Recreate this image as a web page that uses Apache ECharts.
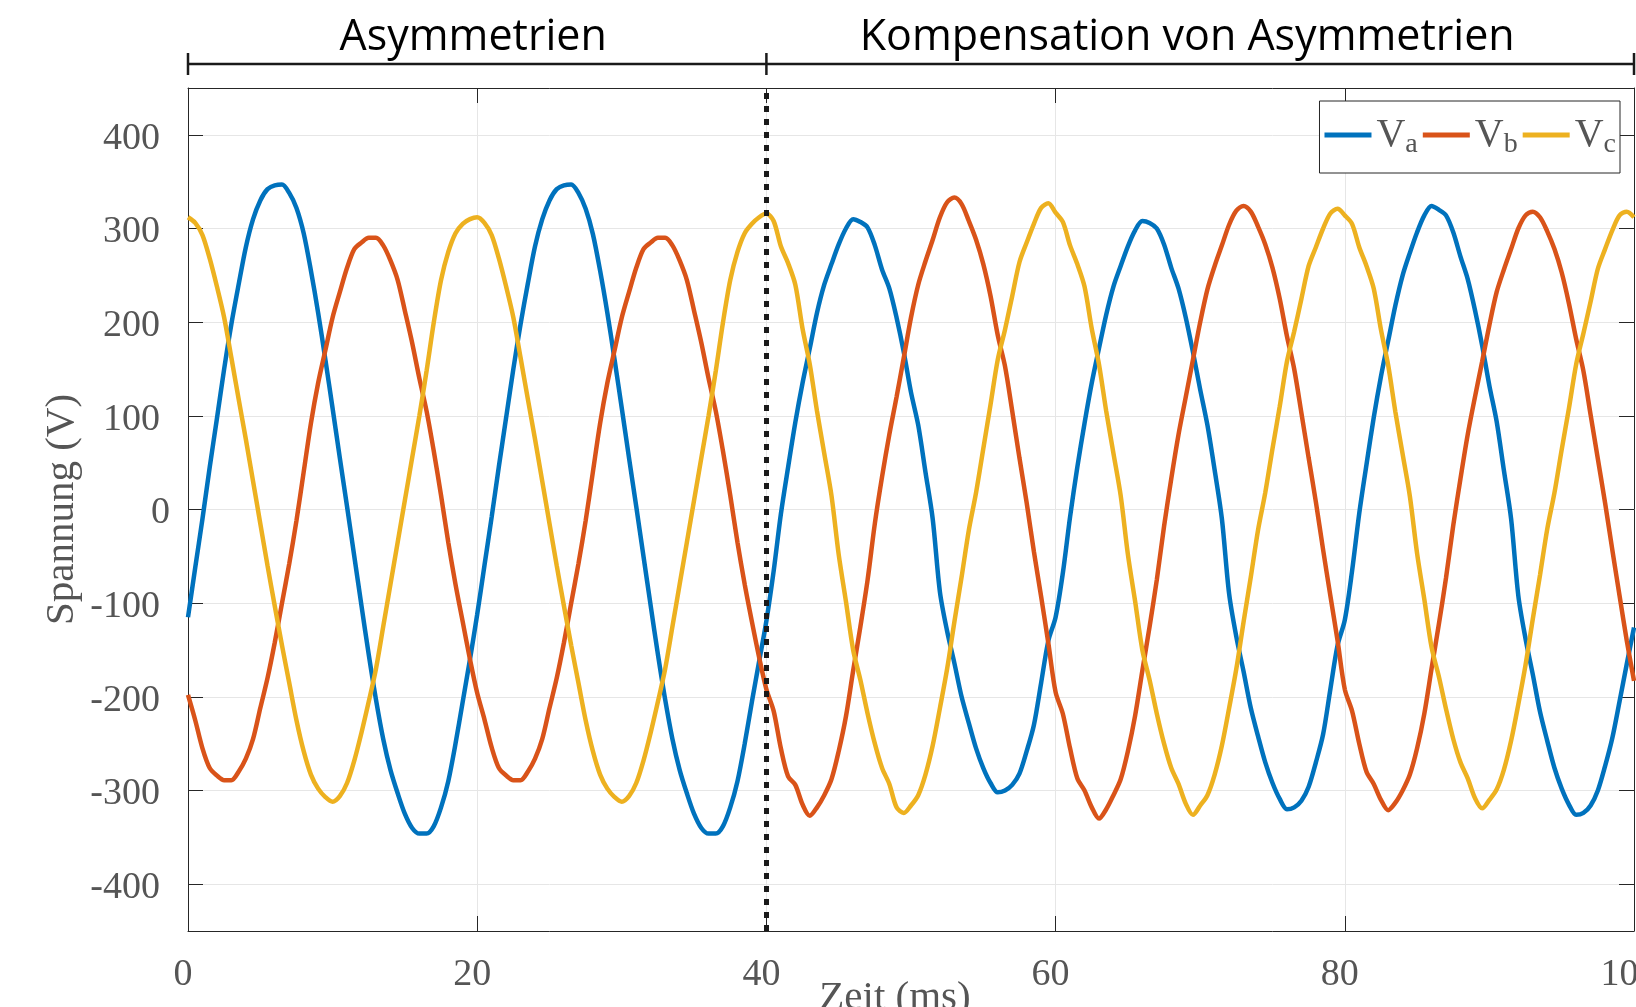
<!DOCTYPE html>
<html><head><meta charset="utf-8">
<script src="https://cdn.jsdelivr.net/npm/echarts@6/dist/echarts.min.js"></script>
<style>html,body{margin:0;padding:0;background:#fff}#c{width:1636px;height:1007px}</style>
</head><body><div id="c"></div><script>
// ---------- data ----------
const timeStepMs = 0.5;           // samples every 0.5 ms, 0 .. 100 ms
const va = [
 -115,-62,-10,45,97,150,198,240,280,310,330,342,346,347,338,322,295,255,210,160,108,55,3,-50,-103,-155,-203,-245,-278,-303,-325,-340,-346,-346,-338,-318,-290,-250,-205,-160,-112,
 -60,-8,46,98,150,198,241,281,310,330,342,346,347,338,321,294,255,210,160,108,55,3,-50,-103,-155,-203,-245,-278,-303,-325,-340,-346,-346,-338,-318,-290,-250,-205,-162,-119,
 -66,-5,45,93,135,172,210,240,262,283,300,310,307,301,282,256,236,205,168,125,90,40,-10,-88,-130,-164,-200,-228,-255,-276,-292,-302,-300,-294,-282,-258,-230,-185,-140,-115,
 -68,-8,45,92,135,172,208,238,260,281,298,308,306,300,283,258,236,205,168,128,90,42,-10,-90,-136,-173,-212,-242,-270,-292,-309,-320,-318,-311,-296,-270,-240,-192,-145,-118,
 -66,-4,48,98,142,180,218,250,274,296,314,324,320,314,296,270,246,213,175,132,94,42,-10,-92,-138,-176,-216,-247,-276,-298,-315,-326,-324,-316,-300,-274,-244,-205,-165,-126
];
const vb = [
 -198,-225,-255,-276,-284,-289,-289,-280,-266,-245,-212,-180,-142,-100,-58,-12,40,92,135,170,205,232,258,278,285,290,290,282,266,245,212,178,140,105,62,15,-35,-80,-120,-160,-196,
 -224,-254,-276,-284,-289,-289,-280,-266,-245,-212,-180,-142,-100,-58,-12,40,92,135,170,205,232,258,278,285,290,290,282,266,245,212,178,140,105,62,15,-35,-80,-120,-158,-192,
 -215,-255,-285,-294,-315,-327,-318,-305,-288,-258,-221,-172,-125,-75,-15,35,80,120,162,205,240,265,288,312,328,333,326,308,288,262,228,186,153,105,55,7,-45,-93,-143,-195,
 -218,-255,-287,-300,-318,-330,-320,-305,-288,-258,-220,-172,-125,-75,-18,33,80,120,160,200,235,260,282,304,319,324,318,302,283,258,225,185,150,103,55,8,-43,-92,-140,-192,
 -215,-250,-280,-293,-310,-321,-313,-300,-283,-255,-218,-170,-123,-73,-17,33,80,120,158,197,232,256,278,300,314,318,312,297,278,253,220,182,148,101,54,7,-43,-92,-140,-183
];
const vc = [
 312,306,293,268,238,205,162,118,75,30,-15,-60,-103,-145,-185,-225,-258,-283,-298,-307,-312,-306,-292,-268,-238,-205,-170,-125,-80,-35,10,55,100,148,200,245,275,295,305,310,312,
 306,293,268,238,205,162,118,75,30,-15,-60,-103,-145,-185,-225,-258,-283,-298,-307,-312,-306,-292,-268,-238,-205,-170,-125,-80,-35,10,55,100,148,200,245,275,295,305,312,316,
 308,281,263,240,193,155,105,60,15,-48,-98,-150,-182,-218,-250,-276,-293,-318,-324,-316,-305,-283,-252,-212,-170,-120,-72,-22,18,65,112,160,192,228,264,285,305,322,327,317,
 307,282,262,238,193,155,105,60,15,-48,-98,-150,-182,-218,-250,-276,-293,-314,-326,-316,-305,-283,-252,-212,-170,-120,-72,-22,18,65,110,158,190,225,260,280,300,316,321,314,
 305,280,260,236,192,154,104,59,14,-47,-96,-147,-178,-213,-245,-270,-287,-308,-319,-310,-299,-278,-247,-208,-166,-117,-70,-21,18,64,108,155,188,222,257,278,298,314,318,312
];
const seriesNames = ['Va', 'Vb', 'Vc'];
const seriesSubs = ['a', 'b', 'c'];
const switchTimeMs = 40;
const phaseBounds = [0, 40, 100];
const phaseLabels = ['Asymmetrien', 'Kompensation von Asymmetrien'];
const xName = 'Zeit (ms)';
const yName = 'Spannung (V)';

// ---------- styling / layout ----------
const colors = ['#0072BD', '#D95319', '#EDB120'];
const axisColor = '#262626';
const labelColor = '#555555';
const serif = '"Liberation Serif", "Times New Roman", serif';
const sans = '"Open Sans", "Noto Sans", sans-serif';
const timeMs = va.map((_, i) => i * timeStepMs);
const seriesValues = [va, vb, vc];

const chart = echarts.init(document.getElementById('c'), null, { renderer: 'canvas' });

const baseX = {
  type: 'value', min: 0, max: 100, interval: 20,
  axisLine: { show: true, onZero: false, lineStyle: { color: axisColor, width: 1 } },
  axisTick: { show: true, inside: true, length: 15, lineStyle: { color: axisColor, width: 1 } }
};
const baseY = {
  type: 'value', min: -450, max: 450, splitNumber: 9,
  axisLine: { show: true, onZero: false, lineStyle: { color: axisColor, width: 1 } },
  axisTick: { show: true, inside: true, length: 15, lineStyle: { color: axisColor, width: 1 } }
};

const subOf = {};
seriesNames.forEach((n, i) => subOf[n] = seriesSubs[i]);
const tickFont = { fontFamily: serif, fontSize: 38, color: labelColor };

const option = {
  animation: false,
  backgroundColor: '#ffffff',
  grid: { left: 188, right: 2, top: 88, bottom: 76, containLabel: false, outerBoundsMode: 'none' },
  xAxis: [
    Object.assign({}, baseX, {
      position: 'bottom',
      axisLabel: { show: true, margin: 25, color: labelColor, fontFamily: serif, fontSize: 38,
                   formatter: v => '{n|' + v + '}',
                   rich: { n: Object.assign({ padding: [0, 10, 0, 0] }, tickFont) } },
      splitLine: { show: true, lineStyle: { color: '#e6e6e6', width: 1 } },
      name: xName, nameLocation: 'middle', nameGap: 47, nameMoveOverlap: false,
      nameTextStyle: { color: labelColor, fontFamily: serif, fontSize: 41, padding: [0, 32, 0, 0] }
    }),
    Object.assign({}, baseX, {
      position: 'top',
      axisLabel: { show: false }, splitLine: { show: false }
    })
  ],
  yAxis: [
    Object.assign({}, baseY, {
      position: 'left',
      axisLabel: { show: true, margin: 18, color: labelColor, fontFamily: serif, fontSize: 38,
                   formatter: v => (v === 0 ? '{z|0}' : '{n|' + v + '}'),
                   rich: {
                     n: Object.assign({ padding: [8, 10, 0, 0] }, tickFont),
                     z: Object.assign({ padding: [8, 0, 0, 0] }, tickFont)
                   },
                   showMinLabel: false, showMaxLabel: false },
      splitLine: { show: true, lineStyle: { color: '#e6e6e6', width: 1 } },
      name: yName, nameLocation: 'middle', nameGap: 105, nameRotate: 90, nameMoveOverlap: false,
      nameTextStyle: { color: labelColor, fontFamily: serif, fontSize: 41 }
    }),
    Object.assign({}, baseY, {
      position: 'right',
      axisLabel: { show: false }, splitLine: { show: false }
    })
  ],
  legend: {
    right: 16, top: 101, orient: 'horizontal',
    icon: 'rect', itemWidth: 47, itemHeight: 5, itemGap: 5,
    padding: [14, 4, 14, 5],
    borderColor: axisColor, borderWidth: 1, backgroundColor: '#ffffff',
    data: seriesNames,
    formatter: name => '{v|V}{s|' + subOf[name] + '}',
    textStyle: {
      color: labelColor,
      rich: {
        v: { fontFamily: serif, fontSize: 40, color: labelColor },
        s: { fontFamily: serif, fontSize: 28, color: labelColor, padding: [20, 0, 0, 0] }
      }
    }
  },
  series: seriesValues.map((vals, k) => {
    const s = {
      name: seriesNames[k], type: 'line', xAxisIndex: 0, yAxisIndex: 0,
      data: timeMs.map((t, i) => [t, vals[i]]),
      showSymbol: false, symbol: 'none', smooth: 0.3,
      lineStyle: { width: 4.5, color: colors[k] },
      itemStyle: { color: colors[k] },
      z: 2 + k
    };
    if (k === seriesValues.length - 1) {
      s.markLine = {
        silent: true, symbol: ['none', 'none'], label: { show: false },
        lineStyle: { color: '#1a1a1a', width: 5, type: [6, 7] },
        data: [{ xAxis: switchTimeMs }]
      };
    }
    return s;
  })
};
chart.setOption(option);

// ---------- phase brackets above the plot (positioned via the x axis scale) ----------
const bracketY = 64, bracketHalf = 11, textY = 38;
const labelShift = [-4, -13];
const px = v => chart.convertToPixel({ xAxisIndex: 0 }, v);
const els = [];
els.push({ type: 'line', shape: { x1: px(phaseBounds[0]), y1: bracketY, x2: px(phaseBounds[phaseBounds.length - 1]), y2: bracketY },
           style: { stroke: '#1a1a1a', lineWidth: 2.5 } });
phaseBounds.forEach(b => {
  const x = Math.min(px(b), 1634.5);
  els.push({ type: 'line', shape: { x1: x, y1: bracketY - bracketHalf, x2: x, y2: bracketY + bracketHalf },
             style: { stroke: '#1a1a1a', lineWidth: 2.5 } });
});
phaseLabels.forEach((lab, i) => {
  const cx = (px(phaseBounds[i]) + px(phaseBounds[i + 1])) / 2 + labelShift[i];
  els.push({ type: 'text', x: cx, y: textY,
             style: { text: lab, fontFamily: sans, fontSize: 43, fill: '#000000', align: 'center', verticalAlign: 'middle' } });
});
chart.setOption({ graphic: els });
</script></body></html>
